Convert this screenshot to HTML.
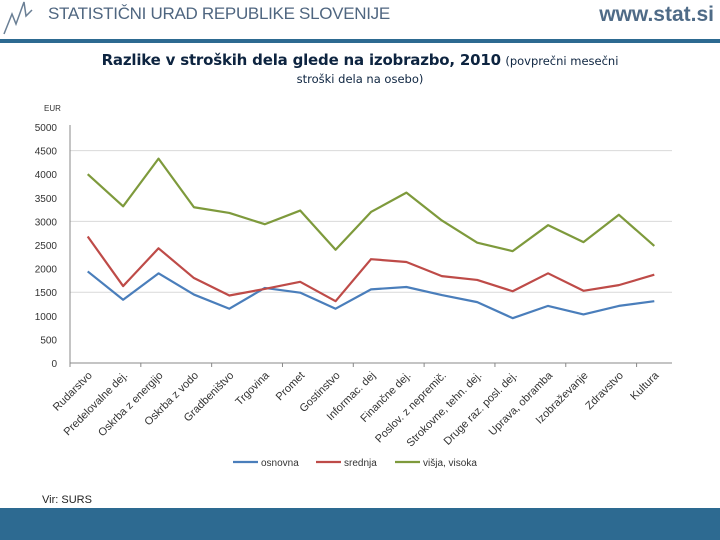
<!DOCTYPE html>
<html><head><meta charset="utf-8"><style>
body{margin:0;width:720px;height:540px;background:#fff;overflow:hidden;position:relative;font-family:"Liberation Sans",sans-serif}
.abs{position:absolute}
</style></head><body>
<div class="abs" style="left:2px;top:0;width:44px;height:36px">
<svg width="44" height="36"><polyline points="2,34 10,14 14,24 22,2 24,16 30,10" fill="none" stroke="#6a7f95" stroke-width="1.5"/></svg></div>
<div class="abs" style="left:48px;top:4px;font-size:17px;color:#4f6680;letter-spacing:-0.3px">STATISTIČNI URAD REPUBLIKE SLOVENIJE</div>
<div class="abs" style="right:6px;top:3px;font-size:21px;font-weight:bold;color:#4f6b87">www.stat.si</div>
<div class="abs" style="left:0;top:39px;width:720px;height:4px;background:#2d6a91"></div>
<div class="abs" style="left:0;top:51px;width:720px;text-align:center;color:#0d2440;line-height:18px">
<span style="font-size:15px;font-weight:bold;font-family:'DejaVu Sans',sans-serif;letter-spacing:-0.2px">Razlike v stroških dela glede na izobrazbo, 2010</span> <span style="font-size:11.5px;font-family:'DejaVu Sans',sans-serif">(povprečni mesečni</span><br><span style="font-size:11.5px;font-family:'DejaVu Sans',sans-serif">stroški dela na osebo)</span></div>
<svg class="abs" style="left:0;top:0" width="720" height="540" id="chart"></svg>
<div class="abs" style="left:42px;top:494px;font-size:11px;color:#222">Vir: SURS</div>
<div class="abs" style="left:0;top:508px;width:720px;height:32px;background:#2d6a91"></div>
<script>
const categories=["Rudarstvo","Predelovalne dej.","Oskrba z energijo","Oskrba z vodo","Gradbeništvo","Trgovina","Promet","Gostinstvo","Informac. dej","Finančne dej.","Poslov. z nepremič.","Strokovne, tehn. dej.","Druge raz. posl. dej.","Uprava, obramba","Izobraževanje","Zdravstvo","Kultura"];
const osnovna=[1940,1340,1900,1450,1150,1590,1490,1150,1560,1610,1440,1290,950,1210,1030,1210,1310];
const srednja=[2680,1630,2430,1800,1430,1570,1720,1310,2200,2140,1840,1760,1520,1900,1530,1650,1870];
const visja=[4000,3320,4330,3300,3180,2940,3230,2400,3200,3610,3020,2550,2370,2920,2560,3140,2480];
const yTicks=[0,500,1000,1500,2000,2500,3000,3500,4000,4500,5000];
const gridValues=[1500,3000,4500];
const NS="http://www.w3.org/2000/svg";
const svg=document.getElementById('chart');
const x0=70,x1=672,y0=363,y1=127;
const step=(x1-x0)/categories.length;
const X=i=>x0+step*(i+0.5);
const Y=v=>y0-(v/5000)*(y0-y1);
function mk(t,a){const e=document.createElementNS(NS,t);for(const k in a)e.setAttribute(k,a[k]);svg.appendChild(e);return e;}
gridValues.forEach(v=>{const g=mk('line',{x1:x0,x2:x1,y1:Y(v),y2:Y(v),stroke:'#d9d9d9'});

});
const ya=mk('line',{x1:x0,x2:x0,y1:y1-2,y2:y0,stroke:'#888'});


const xa=mk('line',{x1:x0,x2:x1,y1:y0,y2:y0,stroke:'#888'});


yTicks.forEach(v=>{const t=mk('text',{x:57,y:Y(v)+4,'text-anchor':'end','font-size':'10','fill':'#333','font-family':'Liberation Sans, sans-serif'});t.textContent=v;

});
const u=mk('text',{x:44,y:111,'font-size':'8','fill':'#333','font-family':'Liberation Sans, sans-serif'});u.textContent='EUR';


for(let i=0;i<=categories.length;i+=2){const tk=mk('line',{x1:x0+step*i,x2:x0+step*i,y1:y0,y2:y0+4,stroke:'#888'});

}
categories.forEach((c,i)=>{const x=X(i)+5,y=y0+13;const t=mk('text',{x:x,y:y,'text-anchor':'end','font-size':'11','fill':'#333','font-family':'Liberation Sans, sans-serif',transform:`rotate(-45 ${x} ${y})`});t.textContent=c;

});
[[osnovna,'#4a7ebb','series-osnovna'],[srednja,'#be4b48','series-srednja'],[visja,'#7e9a3c','series-visja-visoka']].forEach(([d,c,n])=>{
const p=mk('polyline',{points:d.map((v,i)=>X(i)+','+Y(v)).join(' '),fill:'none',stroke:c,'stroke-width':'2.2','stroke-linejoin':'round'});

});
[[233,'#4a7ebb','osnovna'],[316,'#be4b48','srednja'],[395,'#7e9a3c','višja, visoka']].forEach(([x,c,l])=>{
const ln=mk('line',{x1:x,x2:x+25,y1:462,y2:462,stroke:c,'stroke-width':'2.2'});


const t=mk('text',{x:x+28,y:466,'font-size':'10','fill':'#333','font-family':'Liberation Sans, sans-serif'});t.textContent=l;

});
</script>
</body></html>
